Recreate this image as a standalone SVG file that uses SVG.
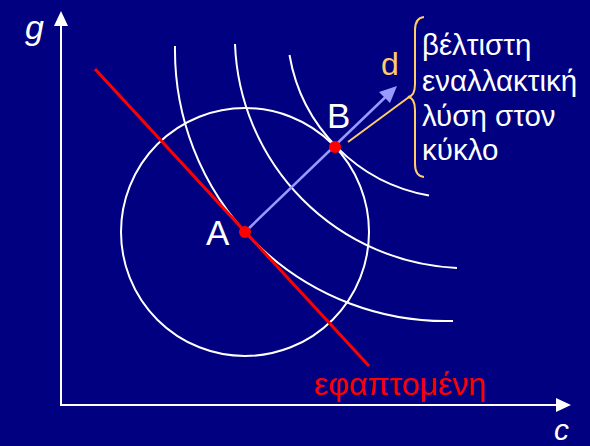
<svg xmlns="http://www.w3.org/2000/svg" width="590" height="446" viewBox="0 0 590 446">
<style>
.wl{fill:none;stroke:#FFFFFF;stroke-width:2}
.t{font-family:"Liberation Sans",Arial,sans-serif;fill:#FFFFFF}
.it{font-style:italic}
</style>
<rect x="0" y="0" width="590" height="446" fill="#000080"/>
<g id="axes">
<line x1="61" y1="406" x2="61" y2="26" stroke="#FFFFFF" stroke-width="2"/>
<polygon points="61,11 54,26 68,26" fill="#FFFFFF"/>
<line x1="60" y1="405" x2="556" y2="405" stroke="#FFFFFF" stroke-width="2"/>
<polygon points="571,405 556,398 556,412" fill="#FFFFFF"/>
<text class="t it" x="25" y="39" font-size="34">g</text>
<text class="t it" x="554" y="440" font-size="30">c</text>
</g>
<g id="contours">
<path class="wl" d="M175 46 A271 271 0 0 0 453 321"/>
<path class="wl" d="M235 44 A233 233 0 0 0 457 268"/>
<path class="wl" d="M289.5 55 A172 172 0 0 0 429 195.5"/>
</g>
<g id="circle">
<circle class="wl" cx="245" cy="232" r="124"/>
</g>
<g id="connectors">
<line x1="95" y1="69" x2="369" y2="366" stroke="#FF0000" stroke-width="3"/>
<line x1="245" y1="232" x2="385" y2="97.5" stroke="#9999FF" stroke-width="2.5"/>
<polygon points="397,86 379,92 390,103" fill="#9999FF"/>
<line x1="348" y1="142" x2="409" y2="97" stroke="#FFCC66" stroke-width="2"/>
<path d="M424 17 Q415 18 415 30 L415 84 Q415 96 408 97 Q415 98 415 110 L415 164 Q415 176 424 177" fill="none" stroke="#FFCC66" stroke-width="2"/>
</g>
<g id="pointA">
<circle cx="245" cy="232" r="6" fill="#FF0000"/>
<text class="t" x="206" y="245" font-size="35">A</text>
</g>
<g id="pointB">
<circle cx="335" cy="147" r="6" fill="#FF0000"/>
<text class="t" x="327" y="128" font-size="35">B</text>
</g>
<g id="labelD">
<text class="t" x="381" y="75" font-size="32" style="fill:#FFCC66">d</text>
</g>
<g id="note">
<text class="t" x="422" y="55" font-size="29.5">βέλτιστη</text>
<text class="t" x="422" y="91" font-size="29.5">εναλλακτική</text>
<text class="t" x="422" y="126" font-size="29.5">λύση στον</text>
<text class="t" x="422" y="160" font-size="29.5">κύκλο</text>
</g>
<g id="tangentLabel">
<text class="t" x="314" y="395" font-size="32" style="fill:#FF0000">εφαπτομένη</text>
</g>
</svg>
